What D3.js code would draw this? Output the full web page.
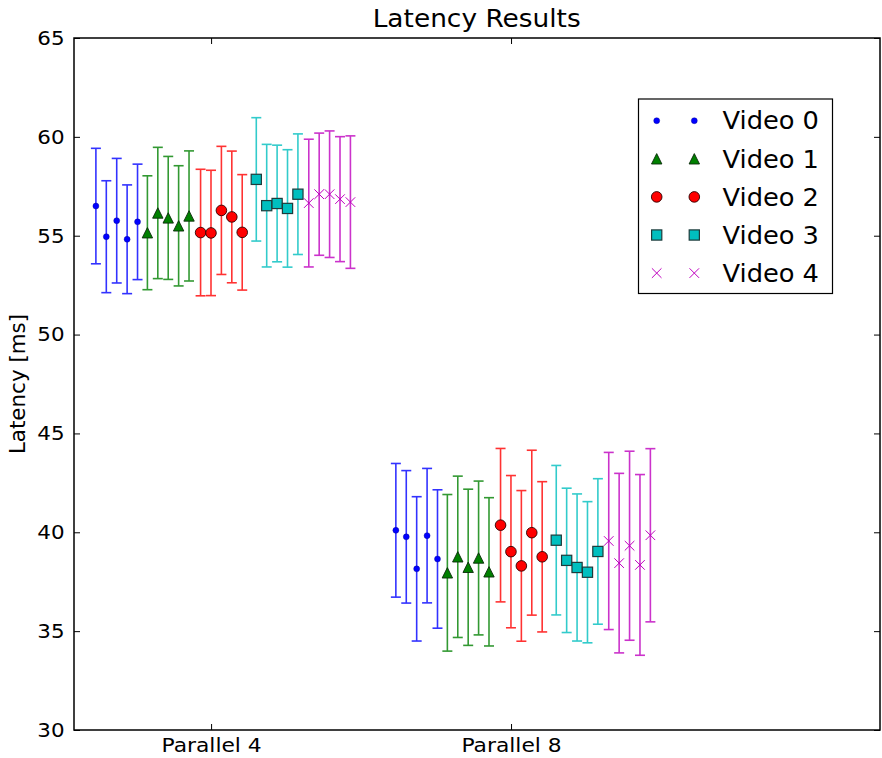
<!DOCTYPE html>
<html>
<head>
<meta charset="utf-8">
<script src="https://cdn.jsdelivr.net/npm/d3@7"></script>
<style>
  html, body { margin: 0; padding: 0; background: #fff; }
  svg { display: block; font-family: "DejaVu Sans", sans-serif; }
</style>
</head>
<body>
<svg id="chart" width="882" height="758"></svg>
<script>
// Group labels on the x axis
const categories = ["Parallel 4", "Parallel 8"];
// One series per video
const videos = ["Video 0", "Video 1", "Video 2", "Video 3", "Video 4"];
const yTicks = [30, 35, 40, 45, 50, 55, 60, 65];

// Mean latency [ms], rows = video, columns = run
const meanP4 = [
  [56.5, 54.95, 55.76, 54.82, 55.7],
  [55.15, 56.15, 55.9, 55.5, 56.0],
  [55.16, 55.14, 56.28, 55.95, 55.17],
  [57.85, 56.52, 56.63, 56.38, 57.1],
  [56.65, 57.1, 57.1, 56.85, 56.7]
];
const errP4 = [
  [2.92, 2.83, 3.15, 2.75, 2.92],
  [2.88, 3.32, 3.11, 3.04, 3.29],
  [3.2, 3.17, 3.24, 3.33, 2.92],
  [3.12, 3.1, 2.95, 2.97, 3.05],
  [3.23, 3.09, 3.2, 3.16, 3.35]
];
const meanP8 = [
  [40.1, 39.77, 38.15, 39.83, 38.65],
  [37.95, 38.76, 38.23, 38.7, 38.0],
  [40.36, 39.02, 38.3, 39.98, 38.76],
  [39.6, 38.58, 38.22, 37.98, 39.03],
  [39.56, 38.44, 39.32, 38.35, 39.85]
];
const errP8 = [
  [3.38, 3.35, 3.65, 3.4, 3.5],
  [3.96, 4.08, 3.95, 3.89, 3.75],
  [3.88, 3.85, 3.81, 4.17, 3.8],
  [3.78, 3.65, 3.72, 3.57, 3.68],
  [4.48, 4.54, 4.78, 4.57, 4.38]
];

const colors = ["#0000ff", "#008000", "#ff0000", "#00bfbf", "#bf00bf"];
const shapes = ["dot", "triangle", "circle", "square", "x"];

const svg = d3.select("#chart");
const plotLeft = 74, plotRight = 880, plotTop = 38, plotBottom = 730;

// Runs within a group are laid out side by side around the group tick
const videoStart = [-0.384, -0.2123, -0.035, 0.1507, 0.3257];
const runStep = 0.0347;

const x = d3.scaleLinear().domain([0.543, 3.23]).range([plotLeft, plotRight]);
const y = d3.scaleLinear().domain([30, 65]).range([plotBottom, plotTop]);

const groups = [meanP4, meanP8];
const groupErr = [errP4, errP8];

// Slightly widen glyph runs (the figure's text renders a little wide)
function widen(sel, factor) {
  sel.each(function () {
    const len = this.getComputedTextLength();
    d3.select(this).attr("textLength", len * factor).attr("lengthAdjust", "spacingAndGlyphs");
  });
}

// Frame
svg.append("rect")
  .attr("x", plotLeft).attr("y", plotTop)
  .attr("width", plotRight - plotLeft).attr("height", plotBottom - plotTop)
  .attr("fill", "#fff").attr("stroke", "#000").attr("stroke-width", 1.5);

// Y axis (ticks pointing inward)
const yAxis = d3.axisLeft(y).tickValues(yTicks).tickSize(-6).tickPadding(9.5).tickFormat(d3.format("d"));
const gy = svg.append("g").attr("transform", `translate(${plotLeft},0)`).call(yAxis);
gy.select(".domain").remove();
gy.selectAll("text").attr("font-size", 20).attr("font-family", "DejaVu Sans").attr("fill", "#000");
gy.selectAll("line").attr("stroke", "#000");
widen(gy.selectAll("text"), 1.07);

const gyr = svg.append("g").attr("transform", `translate(${plotRight},0)`)
  .call(d3.axisRight(y).tickValues(yTicks).tickSize(-6).tickFormat(""));
gyr.select(".domain").remove();
gyr.selectAll("line").attr("stroke", "#000");

// X axis
const xTickVals = categories.map((c, i) => i + 1);
const xAxis = d3.axisBottom(x).tickValues(xTickVals).tickSize(-6).tickPadding(9)
  .tickFormat((d, i) => categories[i]);
const gx = svg.append("g").attr("transform", `translate(0,${plotBottom})`).call(xAxis);
gx.select(".domain").remove();
gx.selectAll("text").attr("font-size", 20).attr("font-family", "DejaVu Sans").attr("fill", "#000")
  .attr("dy", null).attr("y", 22.3);
gx.selectAll("line").attr("stroke", "#000");
widen(gx.selectAll("text"), 1.09);

const gxt = svg.append("g").attr("transform", `translate(0,${plotTop})`)
  .call(d3.axisTop(x).tickValues(xTickVals).tickSize(-6).tickFormat(""));
gxt.select(".domain").remove();
gxt.selectAll("line").attr("stroke", "#000");

// Title and axis label
const title = svg.append("text").attr("x", 476.7).attr("y", 26.7)
  .attr("text-anchor", "middle").attr("font-size", 24).text("Latency Results");
widen(title, 1.1);
const yLabel = svg.append("text")
  .attr("transform", `translate(25,${(plotTop + plotBottom) / 2}) rotate(-90)`)
  .attr("text-anchor", "middle").attr("font-size", 21).text("Latency [ms]");
widen(yLabel, 1.02);

// Marker drawing
function drawMarker(g, shape, cx, cy, color) {
  if (shape === "dot") {
    g.append("circle").attr("cx", cx).attr("cy", cy).attr("r", 3)
      .attr("fill", color).attr("stroke", "#00008a").attr("stroke-width", 0.4);
  } else if (shape === "triangle") {
    const s = 5.2;
    g.append("path")
      .attr("d", `M${cx},${cy - s}L${cx - s},${cy + s}L${cx + s},${cy + s}Z`)
      .attr("fill", color).attr("stroke", "#0a2a0a").attr("stroke-width", 0.9);
  } else if (shape === "circle") {
    g.append("circle").attr("cx", cx).attr("cy", cy).attr("r", 5.3)
      .attr("fill", color).attr("stroke", "#2a0000").attr("stroke-width", 0.9);
  } else if (shape === "square") {
    const s = 5.1;
    g.append("rect").attr("x", cx - s).attr("y", cy - s).attr("width", 2 * s).attr("height", 2 * s)
      .attr("fill", color).attr("stroke", "#1e3a3a").attr("stroke-width", 1.2);
  } else {
    const s = 4.8;
    g.append("path")
      .attr("d", `M${cx - s},${cy - s}L${cx + s},${cy + s}M${cx - s},${cy + s}L${cx + s},${cy - s}`)
      .attr("fill", "none").attr("stroke", color).attr("stroke-width", 1);
  }
}

// Error bars and markers
const plot = svg.append("g");
videos.forEach((name, v) => {
  const gv = plot.append("g");
  groups.forEach((means, gi) => {
    means[v].forEach((m, j) => {
      const e = groupErr[gi][v][j];
      const px = x(gi + 1 + videoStart[v] + j * runStep);
      const y0 = y(m - e), y1 = y(m + e);
      const bar = gv.append("g").attr("stroke", colors[v]).attr("stroke-width", 1.6).attr("opacity", 0.8);
      bar.append("line").attr("x1", px).attr("x2", px).attr("y1", y0).attr("y2", y1);
      bar.append("line").attr("x1", px - 5).attr("x2", px + 5).attr("y1", y0).attr("y2", y0);
      bar.append("line").attr("x1", px - 5).attr("x2", px + 5).attr("y1", y1).attr("y2", y1);
    });
  });
  groups.forEach((means, gi) => {
    means[v].forEach((m, j) => {
      const px = x(gi + 1 + videoStart[v] + j * runStep);
      drawMarker(gv, shapes[v], px, y(m), colors[v]);
    });
  });
});

// Legend
const lg = svg.append("g");
lg.append("rect").attr("x", 638.5).attr("y", 99).attr("width", 194).attr("height", 194.5)
  .attr("fill", "#fff").attr("stroke", "#000").attr("stroke-width", 1.2);
videos.forEach((name, v) => {
  const ry = 120.7 + v * 38.1;
  drawMarker(lg, shapes[v], 656.7, ry, colors[v]);
  drawMarker(lg, shapes[v], 694.3, ry, colors[v]);
  const t = lg.append("text").attr("x", 722.5).attr("y", ry + 8.7).attr("font-size", 24).text(name);
  widen(t, 1.07);
});
</script>
</body>
</html>
